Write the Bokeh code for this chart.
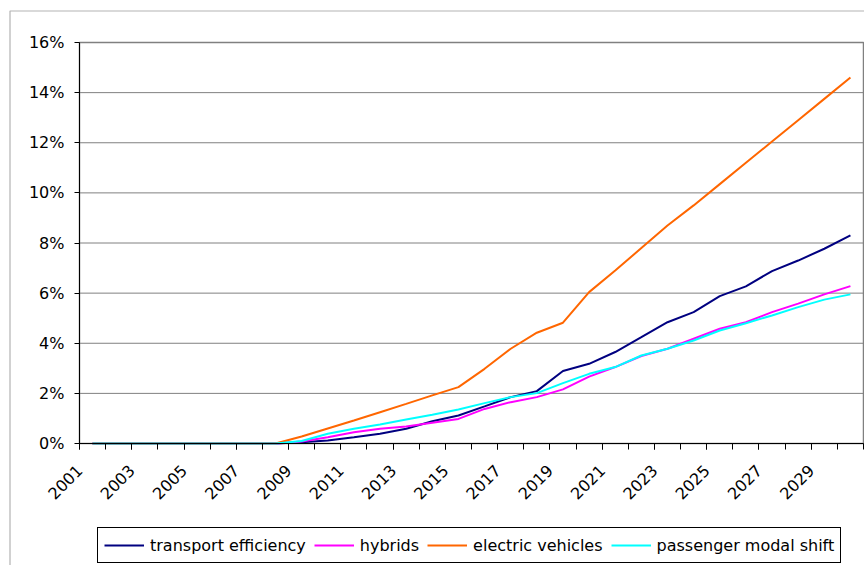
import math
from bokeh.plotting import figure
from bokeh.models import (Range1d, FixedTicker, PrintfTickFormatter, CustomJSTickFormatter,
                          Legend, LegendItem, BoxAnnotation)
from bokeh.embed import file_html
from bokeh.resources import INLINE

years = list(range(2001, 2031))
label_years = list(range(2001, 2030, 2))
y_ticks = list(range(0, 17, 2))

# values in percent
transport_efficiency = [0, 0, 0, 0, 0, 0, 0, 0,
                        0.05, 0.12, 0.25, 0.39, 0.59, 0.89, 1.12, 1.48, 1.85, 2.09, 2.89, 3.18, 3.65,
                        4.24, 4.84, 5.24, 5.88, 6.27, 6.88, 7.30, 7.77, 8.30]
hybrids = [0, 0, 0, 0, 0, 0, 0, 0,
           0.08, 0.25, 0.45, 0.59, 0.68, 0.83, 0.98, 1.38, 1.65, 1.85, 2.16, 2.67, 3.05,
           3.49, 3.78, 4.18, 4.58, 4.84, 5.24, 5.58, 5.95, 6.28]
electric_vehicles = [0, 0, 0, 0, 0, 0, 0, 0,
                     0.28, 0.60, 0.92, 1.25, 1.58, 1.92, 2.25, 2.98, 3.78, 4.42, 4.82, 6.04, 6.90,
                     7.80, 8.70, 9.50, 10.35, 11.20, 12.05, 12.90, 13.75, 14.60]
passenger_modal_shift = [0, 0, 0, 0, 0, 0, 0, 0,
                         0.10, 0.39, 0.59, 0.76, 0.96, 1.15, 1.36, 1.61, 1.85, 2.01, 2.41, 2.78, 3.05,
                         3.51, 3.78, 4.11, 4.51, 4.80, 5.11, 5.44, 5.74, 5.95]

series = [
    ("transport efficiency", transport_efficiency, "#000080"),
    ("hybrids", hybrids, "#FF00FF"),
    ("electric vehicles", electric_vehicles, "#FF6600"),
    ("passenger modal shift", passenger_modal_shift, "#00FFFF"),
]

FONT = "DejaVu Sans"

# layout in canvas pixels
W, H = 864, 565
PLOT_L, PLOT_R, PLOT_T, PLOT_B = 79, 863, 42, 443
X_LO, X_HI = years[0] - 0.5, years[-1] + 0.5
Y_LO, Y_HI = y_ticks[0], y_ticks[-1]
ppx = (PLOT_R - PLOT_L) / (X_HI - X_LO)
ppy = (PLOT_B - PLOT_T) / (Y_HI - Y_LO)
x_start = X_LO - PLOT_L / ppx
x_end = X_HI + (W - PLOT_R) / ppx
y_end = Y_HI + PLOT_T / ppy
y_start = Y_LO - (H - PLOT_B) / ppy


def px_x(px):
    return x_start + px / ppx


def px_y(py):
    return y_end - py / ppy


p = figure(width=W, height=H,
           x_range=Range1d(x_start, x_end), y_range=Range1d(y_start, y_end),
           output_backend="svg", toolbar_location=None, min_border=0)
p.background_fill_color = "white"
p.border_fill_color = "white"
p.outline_line_color = None
p.xgrid.visible = False
p.ygrid.visible = False

# outer chart border (left and top visible)
p.add_layout(BoxAnnotation(left=px_x(9.5), right=px_x(W + 20), top=px_y(10.5), bottom=px_y(H + 20),
                           fill_color=None, fill_alpha=0, line_color="black", line_width=1.2))

# gridlines
p.segment(x0=[X_LO] * len(y_ticks), x1=[X_HI] * len(y_ticks), y0=y_ticks, y1=y_ticks,
          line_color="#808080", line_width=1)
# plot area border
p.quad(left=[X_LO], right=[X_HI], bottom=[Y_LO], top=[Y_HI],
       fill_color=None, line_color="#808080", line_width=1.5)

# x axis
p.xaxis.fixed_location = Y_LO
p.xaxis.bounds = (X_LO, X_HI)
p.xaxis.ticker = FixedTicker(ticks=[y - 0.5 for y in label_years],
                             minor_ticks=[y - 0.5 for y in years] + [X_HI])
p.xaxis.formatter = CustomJSTickFormatter(code="return String(Math.round(tick + 0.5))")
p.xaxis.major_tick_out = 6
p.xaxis.major_tick_in = 0
p.xaxis.minor_tick_out = 6
p.xaxis.minor_tick_in = 0
p.xaxis.major_tick_line_color = "black"
p.xaxis.minor_tick_line_color = "black"
p.xaxis.axis_line_color = "black"
p.xaxis.major_label_orientation = math.pi / 4
p.xaxis.major_label_text_font = FONT
p.xaxis.major_label_text_font_size = "16px"
p.xaxis.major_label_text_color = "black"
p.xaxis.major_label_standoff = 18

# y axis
p.yaxis.fixed_location = X_LO
p.yaxis.bounds = (Y_LO, Y_HI)
p.yaxis.ticker = FixedTicker(ticks=y_ticks, minor_ticks=[])
p.yaxis.formatter = PrintfTickFormatter(format="%d%%")
p.yaxis.major_tick_out = 5
p.yaxis.major_tick_in = 0
p.yaxis.major_tick_line_color = "black"
p.yaxis.axis_line_color = "black"
p.yaxis.major_label_text_font = FONT
p.yaxis.major_label_text_font_size = "16px"
p.yaxis.major_label_text_color = "black"
p.yaxis.major_label_standoff = 10

items = []
for name, vals, color in series:
    r = p.line(years, vals, line_color=color, line_width=2)
    items.append(LegendItem(label=name, renderers=[r]))

legend = Legend(items=items, orientation="horizontal", location=(97, 2),
                border_line_color="black", border_line_width=1, border_line_alpha=1,
                background_fill_color="white", background_fill_alpha=1,
                label_text_font=FONT, label_text_font_size="16px", label_text_color="black",
                glyph_width=40, glyph_height=20, label_height=22, label_standoff=6,
                spacing=8, padding=6, margin=0)
p.add_layout(legend)

open("out.html", "w").write(file_html(p, INLINE))
